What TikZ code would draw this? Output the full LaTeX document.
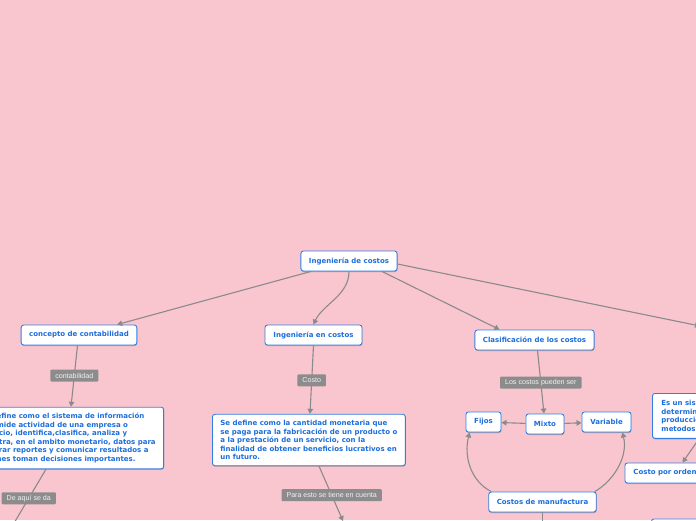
\documentclass[tikz,border=0pt]{standalone}
\usepackage{fontspec}
\setmainfont{DejaVu Sans}
\newfontfamily\lblfont{Liberation Sans}
\usetikzlibrary{arrows.meta,shadows}
\definecolor{bgpink}{RGB}{249,198,208}
\definecolor{nodeblue}{RGB}{48,128,228}
\definecolor{nodetext}{RGB}{28,110,220}
\definecolor{linegray}{RGB}{138,138,140}
\definecolor{lblgray}{RGB}{140,140,140}
\definecolor{lbltext}{RGB}{242,242,242}
\tikzset{
  box/.style={draw=nodeblue, fill=white, line width=0.9pt, rounded corners=2.5pt,
    text=nodetext, font=\bfseries\fontsize{7}{8.5}\selectfont,
    inner xsep=8pt, inner ysep=5pt, minimum height=20pt,
    drop shadow={shadow xshift=0.4pt, shadow yshift=-1pt, opacity=0.25, fill=black}},
  multi/.style={box, align=left, inner ysep=6pt},
  lbl/.style={fill=lblgray, text=lbltext, font=\lblfont\fontsize{7.1}{8}\selectfont,
    inner xsep=5pt, inner ysep=1.5pt, minimum height=12pt, rounded corners=1pt},
  conn/.style={draw=linegray, line width=1.1pt},
  arr/.style={conn, -{Triangle[length=5pt,width=5.5pt]}}
}
\begin{document}
\begin{tikzpicture}[x=1pt,y=-1pt]
\fill[bgpink] (0,0) rectangle (696,520);
\useasboundingbox (0,0) rectangle (696,520);

% nodes
\node[box, minimum width=96pt] (root) at (349,261) {Ingeniería de costos};
\node[box, minimum width=114pt] (conc) at (79,335) {concepto de contabilidad};
\node[box, minimum width=97pt] (ing) at (313.5,335) {Ingeniería en costos};
\node[box, minimum width=119pt] (clas) at (534.5,340) {Clasificación de los costos};
\node[multi, anchor=west] (defc) at (-29,438) {Se define como el sistema de información\\que mide actividad de una empresa o\\negocio, identifica,clasifica, analiza y\\registra, en el ambito monetario, datos para\\generar reportes y comunicar resultados a\\quienes toman decisiones importantes.};
\node[multi, anchor=west] (defi) at (212,440) {Se define como la cantidad monetaria que\\se paga para la fabricación de un producto o\\a la prestación de un servicio, con la\\finalidad de obtener beneficios lucrativos en\\un futuro.};
\node[box, minimum width=35pt] (fijos) at (483.5,422) {Fijos};
\node[box, minimum width=36pt] (mixto) at (545,424) {Mixto};
\node[box, minimum width=49pt] (var) at (606.5,422) {Variable};
\node[box, minimum width=107pt] (manuf) at (542.5,502) {Costos de manufactura};
\node[multi, anchor=north west, text width=94pt, inner ysep=7pt, inner xsep=9pt] (esun) at (652,393) {Es un sistema\\determina\\producción\\metodos};
\node[box, anchor=west, text width=94pt, align=left, inner xsep=8.5pt] (orden) at (624.5,473) {Costo por ordenes};
\node[box, anchor=north west, minimum width=80pt] (brn) at (651,518.5) {};

% free ends
\coordinate (offR) at (700,326);
\coordinate (offBL) at (4,540);
\coordinate (offBM) at (343,521);
\coordinate (offMB) at (542.5,540);

% connectors
\draw[arr] (root) -- (conc);
\draw[arr] (root.south) .. controls +(0,24) and +(9,-20) .. (ing.north);
\draw[arr] ([xshift=33pt]root.south) -- ([xshift=-35pt]clas.north);
\draw[arr] ([yshift=-3pt]root.east) -- (offR);

\draw[arr] ([xshift=-1.5pt]conc.south) -- node[lbl, pos=0.49] (l1) {contabilidad} ([xshift=100pt]defc.north west);
\draw[arr] (ing.south) -- node[lbl, pos=0.51] (l2) {Costo} ([xshift=98pt]defi.north west);
\draw[arr] ([xshift=3pt]clas.south) -- node[lbl, pos=0.51] (l3) {Los costos pueden ser} ([xshift=-1pt]mixto.north);
\draw[conn] ([xshift=75pt]defc.south west) -- node[lbl, pos=0.41] (l4) {De aquí se da} (offBL);
\draw[arr] ([xshift=107pt]defi.south west) -- node[lbl, pos=0.53] (l5) {Para esto se tiene en cuenta} (offBM);

\draw[arr] (mixto) -- (fijos);
\draw[arr] (mixto) -- (var);
\draw[arr] ([xshift=3pt]manuf.north west) .. controls +(-20,-10) and +(-6,25) .. ([xshift=4pt]fijos.south west);
\draw[arr] ([xshift=-2pt]manuf.north east) .. controls +(18,-10) and +(6,25) .. ([xshift=-9pt]var.south east);
\draw[conn] (manuf.south) -- (offMB);
\draw[arr] ([xshift=47pt]esun.south west) -- ([xshift=58pt]orden.north west);
\end{tikzpicture}
\end{document}
